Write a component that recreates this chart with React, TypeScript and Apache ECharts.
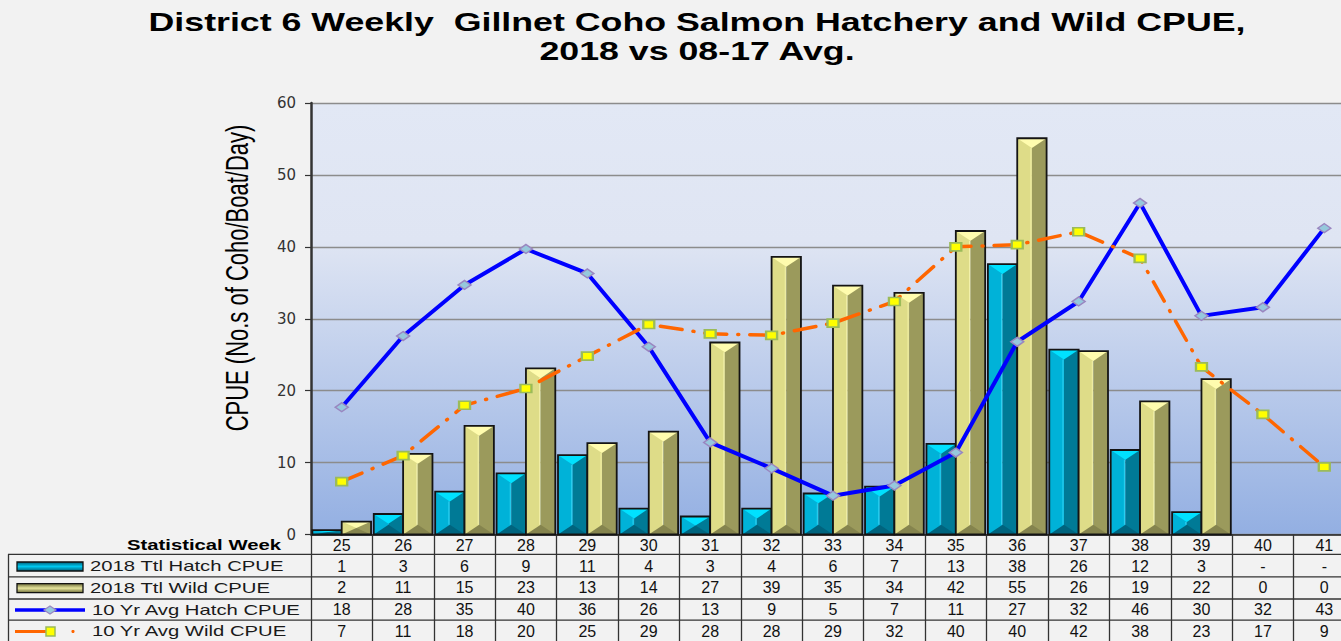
import React, { useEffect, useRef } from "react";
import * as echarts from "echarts";

// ---------- data ----------
const weeks = ["25", "26", "27", "28", "29", "30", "31", "32", "33", "34", "35", "36", "37", "38", "39", "40", "41"];
const hatch2018: (number | null)[] = [0.6, 2.85, 5.95, 8.5, 11.05, 3.6, 2.5, 3.6, 5.7, 6.65, 12.6, 37.6, 25.7, 11.75, 3.1, null, null];
const wild2018: (number | null)[] = [1.8, 11.2, 15.1, 23.1, 12.7, 14.3, 26.7, 38.6, 34.6, 33.6, 42.2, 55.1, 25.5, 18.5, 21.6, 0, 0];
const hatchAvg: (number | null)[] = [17.7, 27.6, 34.7, 39.7, 36.3, 26.1, 12.8, 9.2, 5.4, 6.8, 11.4, 26.8, 32.4, 46.1, 30.4, 31.6, 42.6];
const wildAvg: (number | null)[] = [7.35, 10.96, 17.97, 20.3, 24.8, 29.2, 27.9, 27.7, 29.4, 32.4, 40.0, 40.3, 42.1, 38.4, 23.3, 16.7, 9.4];
const seriesNames = ["2018 Ttl Hatch CPUE", "2018 Ttl Wild CPUE", "10 Yr Avg Hatch CPUE", "10 Yr Avg Wild CPUE"];
const titleLines = ["District 6 Weekly  Gillnet Coho Salmon Hatchery and Wild CPUE,", "2018 vs 08-17 Avg."];
const yName = "CPUE (No.s of Coho/Boat/Day)";
const xTableHeader = "Statistical Week";
const yMin = 0;
const yMax = 60;
const yInterval = 10;

// ---------- layout / style ----------
const W = 1362;
const H = 641;
const GRID_LEFT = 311;
const GRID_TOP = 103;
const GRID_BOTTOM_Y = 534.5;
const GRID_RIGHT_X = 1355;
const rowOffsets = [21.7, 42.7, 64.7, 86.5];
const rowLines = [554.3, 576.8, 599, 620.2];
const rowCenters = [566.5, 588.2, 610, 631.5];
const SANS = '"Liberation Sans", Arial, Helvetica, sans-serif';

const hatchPal = { left: "#00B2D8", right: "#007A96", top: "#00E1FF", bottom: "#00647E", hl: "#2FD2F2" };
const wildPal = { left: "#DEDC88", right: "#9B9A5C", top: "#FFFCAE", bottom: "#85844E", hl: "#F2F0AA" };

function tableRow(vals: (number | null)[]) {
  return vals.map((v) => (v == null ? "-" : String(Math.round(v))));
}

function make3DBar(side: number, pal: typeof hatchPal) {
  return (_params: any, api: any) => {
    const idx = api.value(0);
    const val = api.value(1);
    if (!(val > 0)) return null;
    const top = api.coord([idx, val]);
    const base = api.coord([idx, 0]);
    const bw = api.size([1, 0])[0];
    const cx = top[0];
    const half = bw * 0.478;
    const x0 = side < 0 ? cx - half : cx;
    const x1 = side < 0 ? cx : cx + half;
    const yT = top[1];
    const yB = base[1];
    const h = yB - yT;
    const w = x1 - x0;
    const xm = (x0 + x1) / 2;
    const d = Math.max(0, Math.min(10, h / 2, w / 3));
    return {
      type: "group",
      children: [
        { type: "rect", shape: { x: x0, y: yT, width: w / 2, height: h }, style: { fill: pal.left } },
        { type: "rect", shape: { x: xm, y: yT, width: w / 2, height: h }, style: { fill: pal.right } },
        { type: "polygon", shape: { points: [[x0, yT], [x1, yT], [xm, yT + d]] }, style: { fill: pal.top } },
        { type: "polygon", shape: { points: [[x0, yB], [x1, yB], [xm, yB - d]] }, style: { fill: pal.bottom } },
        h > 2 * d + 2
          ? { type: "line", shape: { x1: xm - 1, y1: yT + d, x2: xm - 1, y2: yB - d }, style: { stroke: pal.hl, lineWidth: 1 } }
          : { type: "group", children: [] },
        { type: "rect", shape: { x: x0, y: yT, width: w, height: h }, style: { fill: "none", stroke: "#141414", lineWidth: 1.8 } },
      ],
    };
  };
}

function scaledText(text: string, x: number, y: number, font: string, align: string, scaleX: number, fill = "#000") {
  return {
    type: "text",
    x,
    y,
    scaleX,
    silent: true,
    style: { text, font, fill, textAlign: align, textVerticalAlign: "middle", align, verticalAlign: "middle" },
  };
}

function buildGraphics() {
  const g: any[] = [];
  // title
  g.push(scaledText(titleLines[0], 697, 22.5, `bold 25px ${SANS}`, "center", 1.43));
  g.push(scaledText(titleLines[1], 697, 51.5, `bold 25px ${SANS}`, "center", 1.43));
  // y axis title (rotated, stretched across like the source)
  g.push({
    type: "text",
    x: 238,
    y: 278,
    rotation: Math.PI / 2,
    scaleY: 1.4,
    silent: true,
    style: {
      text: yName, font: `22px ${SANS}`, fill: "#000",
      textAlign: "center", textVerticalAlign: "middle", align: "center", verticalAlign: "middle",
    },
  });
  // table header label
  g.push(scaledText(xTableHeader, 281, 545, `bold 14px ${SANS}`, "right", 1.45));
  // table horizontal lines
  rowLines.forEach((y) => {
    g.push({ type: "line", silent: true, shape: { x1: 8, y1: y, x2: W, y2: y }, style: { stroke: "#333", lineWidth: 1.3 } });
  });
  // left border of table
  g.push({ type: "line", silent: true, shape: { x1: 8.5, y1: rowLines[0], x2: 8.5, y2: H }, style: { stroke: "#333", lineWidth: 1.3 } });

  // legend icons
  const c0 = rowCenters[0];
  g.push({
    type: "rect", silent: true,
    shape: { x: 17, y: c0 - 4.5, width: 66, height: 9 },
    style: {
      fill: new echarts.graphic.LinearGradient(0, 0, 0, 1, [
        { offset: 0, color: "#005F78" }, { offset: 0.5, color: "#00C8F0" }, { offset: 1, color: "#005F78" },
      ]),
      stroke: "#111", lineWidth: 1.3,
    },
  });
  const c1 = rowCenters[1];
  g.push({
    type: "rect", silent: true,
    shape: { x: 17, y: c1 - 4.5, width: 66, height: 9 },
    style: {
      fill: new echarts.graphic.LinearGradient(0, 0, 0, 1, [
        { offset: 0, color: "#6E6D3A" }, { offset: 0.5, color: "#E6E49C" }, { offset: 1, color: "#6E6D3A" },
      ]),
      stroke: "#111", lineWidth: 1.3,
    },
  });
  const c2 = rowCenters[2];
  g.push({ type: "line", silent: true, shape: { x1: 15, y1: c2, x2: 85, y2: c2 }, style: { stroke: "#0000FF", lineWidth: 3.5 } });
  g.push({
    type: "polygon", silent: true,
    shape: { points: [[44, c2], [50, c2 - 4], [56, c2], [50, c2 + 4]] },
    style: { fill: "#96C8DC", stroke: "#9A86C0", lineWidth: 1.2 },
  });
  const c3 = rowCenters[3];
  g.push({ type: "line", silent: true, shape: { x1: 15, y1: c3, x2: 46, y2: c3 }, style: { stroke: "#FF6600", lineWidth: 3 } });
  g.push({ type: "rect", silent: true, shape: { x: 46, y: c3 - 4.5, width: 9, height: 9 }, style: { fill: "#FFFF00", stroke: "#9BBB59", lineWidth: 1.5 } });
  g.push({ type: "circle", silent: true, shape: { cx: 73, cy: c3, r: 1.6 }, style: { fill: "#FF6600" } });

  // legend texts
  const tx = [90, 90, 92, 92];
  seriesNames.forEach((name, i) => {
    g.push(scaledText(name, tx[i], rowCenters[i], `14px ${SANS}`, "left", 1.45, "#1a1a1a"));
  });
  return g;
}

export default function App() {
  const ref = useRef<HTMLDivElement>(null);

  useEffect(() => {
    if (!ref.current) return;
    const chart = echarts.init(ref.current, undefined, { renderer: "svg" });
    const tableRows = [hatch2018, wild2018, hatchAvg, wildAvg].map(tableRow);
    const labelStyle = { interval: 0, fontSize: 16, color: "#111", margin: 2.5, fontFamily: SANS };

    const option: any = {
      animation: false,
      backgroundColor: "#F2F2F2",
      grid: {
        left: GRID_LEFT,
        right: W - GRID_RIGHT_X,
        top: GRID_TOP,
        bottom: H - GRID_BOTTOM_Y,
        show: true,
        borderWidth: 0,
        backgroundColor: new echarts.graphic.LinearGradient(0, 0, 0, 1, [
          { offset: 0, color: "#E2E8F5" },
          { offset: 0.32, color: "#DFE5F3" },
          { offset: 1, color: "#93AFE2" },
        ]),
      },
      xAxis: [
        {
          type: "category",
          data: weeks,
          boundaryGap: true,
          axisLine: { show: true, lineStyle: { color: "#222", width: 1.5 } },
          axisTick: { show: true, length: 108, lineStyle: { color: "#333", width: 1.3 } },
          axisLabel: labelStyle,
          splitLine: { show: false },
        },
        ...tableRows.map((row, k) => ({
          type: "category",
          data: row,
          position: "bottom",
          offset: rowOffsets[k],
          boundaryGap: true,
          axisLine: { show: false },
          axisTick: { show: false },
          axisLabel: labelStyle,
          splitLine: { show: false },
        })),
      ],
      yAxis: {
        type: "value",
        min: yMin,
        max: yMax,
        interval: yInterval,
        axisLine: { show: true, lineStyle: { color: "#333", width: 2.5 } },
        axisTick: { show: true, length: 6, lineStyle: { color: "#333", width: 1.2 } },
        axisLabel: { fontSize: 15, color: "#333", margin: 15, fontFamily: '"DejaVu Sans", sans-serif' },
        splitLine: { show: true, lineStyle: { color: "#8C8C8C", width: 1.3 } },
      },
      series: [
        {
          type: "custom",
          name: seriesNames[0],
          renderItem: make3DBar(-1, hatchPal),
          data: hatch2018.map((v, i) => [i, v == null ? "-" : v]),
          encode: { x: 0, y: 1 },
          z: 2,
        },
        {
          type: "custom",
          name: seriesNames[1],
          renderItem: make3DBar(1, wildPal),
          data: wild2018.map((v, i) => [i, v == null ? "-" : v]),
          encode: { x: 0, y: 1 },
          z: 2,
        },
        {
          type: "line",
          name: seriesNames[2],
          data: hatchAvg,
          symbol: "diamond",
          symbolSize: [13, 9],
          showSymbol: true,
          showAllSymbol: true,
          lineStyle: { color: "#0000FF", width: 4 },
          itemStyle: { color: "#96C8DC", borderColor: "#9A86C0", borderWidth: 1.5 },
          z: 3,
        },
        {
          type: "line",
          name: seriesNames[3],
          data: wildAvg,
          symbol: "rect",
          symbolSize: [11, 8],
          showSymbol: true,
          showAllSymbol: true,
          lineStyle: { color: "#FF6600", width: 3.5, type: [22, 11, 1, 11], cap: "round" },
          itemStyle: { color: "#FFFF00", borderColor: "#9BBB59", borderWidth: 2 },
          z: 4,
        },
      ],
      graphic: buildGraphics(),
    };
    chart.setOption(option);
    return () => chart.dispose();
  }, []);

  return (
    <div style={{ position: "fixed", left: 0, top: 0, width: 1341, height: H, overflow: "hidden", background: "#F2F2F2" }}>
      <div ref={ref} style={{ width: W, height: H }} />
    </div>
  );
}
